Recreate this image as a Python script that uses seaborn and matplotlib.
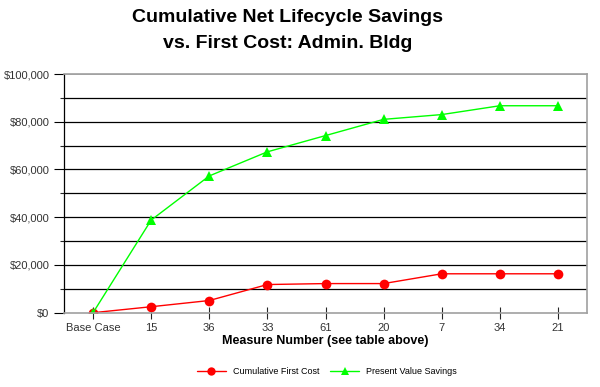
import numpy as np
import pandas as pd
import seaborn as sns
import matplotlib
matplotlib.use('Agg')
import matplotlib.pyplot as plt
from matplotlib.ticker import FuncFormatter, MultipleLocator

measures = ['Base Case', '15', '36', '33', '61', '20', '7', '34', '21']
first_cost = [0, 2500, 5100, 11800, 12200, 12200, 16300, 16300, 16300]
pv_savings = [0, 38800, 57300, 67400, 74200, 81000, 83000, 86700, 86700]

sns.set_style('white')
plt.rcParams['font.family'] = ['Liberation Sans', 'DejaVu Sans']
plt.rcParams['text.color'] = 'black'
plt.rcParams['axes.labelcolor'] = 'black'

pos = np.arange(len(measures))
df = pd.DataFrame({
    'pos': np.concatenate([pos, pos]),
    'value': first_cost + pv_savings,
    'series': ['Cumulative First Cost'] * len(pos) + ['Present Value Savings'] * len(pos),
})

fig = plt.figure(figsize=(6, 3.87), dpi=100)
ax = fig.add_axes([64 / 600, 1 - 312.7 / 387, (587 - 64) / 600, (312.7 - 74) / 387])

# horizontal grid every 10k
for v in range(10000, 100000, 10000):
    ax.axhline(v, color='black', lw=0.9, zorder=0)
ax.axhline(100000, color='#a0a0a0', lw=1.2, zorder=0)

sns.lineplot(data=df, x='pos', y='value', hue='series', style='series',
             palette={'Cumulative First Cost': '#ff0000', 'Present Value Savings': '#00ff00'},
             markers={'Cumulative First Cost': 'o', 'Present Value Savings': '^'},
             dashes=False, lw=1, markersize=7, markeredgewidth=0,
             sort=False, ax=ax, legend=True)

ax.set_xlim(-0.5, len(measures) - 0.5)
ax.set_ylim(0, 100000)
ax.set_xticks(pos)
ax.set_xticklabels(measures)
ax.yaxis.set_major_locator(MultipleLocator(20000))
ax.yaxis.set_minor_locator(MultipleLocator(10000))
ax.yaxis.set_major_formatter(FuncFormatter(lambda v, p: f'${v:,.0f}'))
ax.tick_params(axis='y', which='major', direction='out', length=7, width=0.8,
               labelsize=8, colors='black', labelcolor='#333333', left=True)
ax.tick_params(axis='y', which='minor', direction='out', length=3, width=0.8, left=True)
ax.tick_params(axis='x', direction='inout', length=8, width=0.8, labelsize=8,
               labelcolor='#333333', bottom=True)

for side in ['top', 'right', 'bottom']:
    ax.spines[side].set_color('#a0a0a0')
    ax.spines[side].set_linewidth(1.2)
ax.spines['left'].set_color('black')
ax.spines['left'].set_linewidth(0.9)

ax.set_xlabel('Measure Number (see table above)', fontsize=9, fontweight='bold', labelpad=1)
ax.set_ylabel('')

fig.text(288 / 600, 1 - 17 / 387, 'Cumulative Net Lifecycle Savings', ha='center', va='center',
         fontsize=14, fontweight='bold', color='black')
fig.text(288 / 600, 1 - 44 / 387, 'vs. First Cost: Admin. Bldg', ha='center', va='center',
         fontsize=14, fontweight='bold', color='black')

handles, labels = ax.get_legend_handles_labels()
ax.get_legend().remove()
for h in handles:
    h.set_markersize(6)
fig.legend(handles, labels, loc='center', bbox_to_anchor=(0.545, 1 - 372 / 387), ncol=2,
           frameon=False, fontsize=6.5, handlelength=3.2, handletextpad=0.8,
           columnspacing=1.2)

fig.savefig('out.png', dpi=100)
